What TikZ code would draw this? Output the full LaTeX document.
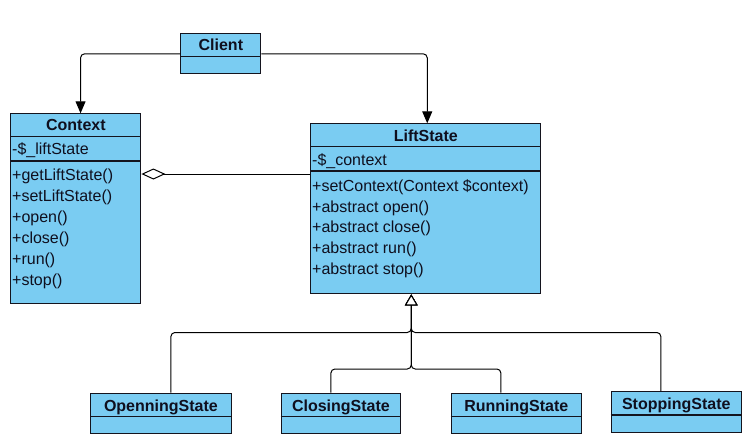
\documentclass[tikz,border=0pt]{standalone}
\usepackage{fontspec}
\setmainfont{Liberation Sans}
\usetikzlibrary{arrows.meta}
\definecolor{clsfill}{RGB}{122,204,242}
\definecolor{clsline}{RGB}{20,20,30}
\definecolor{clstext}{RGB}{15,15,30}
\tikzset{
  cls/.style={draw=clsline, fill=clsfill, line width=1.1pt, inner sep=0pt, anchor=north west},
  div/.style={draw=clsline, line width=1.1pt},
  ttl/.style={font=\fontsize{16}{18}\selectfont\bfseries, text=clstext, inner sep=0pt, text height=12pt, text depth=3pt},
  txt/.style={font=\fontsize{16}{18}\selectfont, text=clstext, inner sep=0pt, anchor=west, text height=12pt, text depth=3pt},
  conn/.style={draw=black, line width=1pt, rounded corners=4pt},
  assoc/.style={conn, -{Triangle[length=12pt,width=10pt]}},
  aggr/.style={conn, -{Diamond[open,length=24pt,width=11pt]}},
  gen/.style={conn, -{Triangle[open,length=11pt,width=12.7pt,fill=white]}}
}
\begin{document}
\begin{tikzpicture}[x=1pt,y=-1pt]
\fill[white] (0,0) rectangle (751,442);
\useasboundingbox (0,0) rectangle (751,442);

% Client
\node[cls, minimum width=80pt, minimum height=40pt] (cl) at (180.3,33.3) {};
\draw[div] (cl.west |- 0,56.7) -- (cl.east |- 0,56.7);
\node[ttl] (clT) at (cl.north |- 0,46) {Client};

% Context
\node[cls, minimum width=130pt, minimum height=190pt] (ctx) at (10.3,113.3) {};
\draw[div] (ctx.west |- 0,136.7) -- (ctx.east |- 0,136.7);
\draw[div] (ctx.west |- 0,161) -- (ctx.east |- 0,161);
\node[ttl] (ctxT) at (ctx.north |- 0,126) {Context};
\node[txt] (ctxA) at (12,150) {-\$\_liftState};
\node[txt] (ctxM1) at (12,176) {+getLiftState()};
\node[txt] (ctxM2) at (12,197) {+setLiftState()};
\node[txt] (ctxM3) at (12,218) {+open()};
\node[txt] (ctxM4) at (12,239) {+close()};
\node[txt] (ctxM5) at (12,260) {+run()};
\node[txt] (ctxM6) at (12,281) {+stop()};

% LiftState
\node[cls, minimum width=230pt, minimum height=170pt] (ls) at (310.3,123.3) {};
\draw[div] (ls.west |- 0,146.7) -- (ls.east |- 0,146.7);
\draw[div] (ls.west |- 0,171) -- (ls.east |- 0,171);
\node[ttl] (lsT) at (ls.north |- 0,136.5) {LiftState};
\node[txt] (lsA) at (312,160.5) {-\$\_context};
\node[txt] (lsM1) at (312,187) {+setContext(Context \$context)};
\node[txt] (lsM2) at (312,207.7) {+abstract open()};
\node[txt] (lsM3) at (312,228.3) {+abstract close()};
\node[txt] (lsM4) at (312,249) {+abstract run()};
\node[txt] (lsM5) at (312,269.7) {+abstract stop()};

% Subclasses
\node[cls, minimum width=140.7pt, minimum height=40.6pt] (op) at (90,392.7) {};
\draw[div] (op.west |- 0,416.7) -- (op.east |- 0,416.7);
\node[ttl] (opT) at (op.north |- 0,406.5) {OpenningState};

\node[cls, minimum width=119.3pt, minimum height=40.6pt] (cs) at (280.7,392.7) {};
\draw[div] (cs.west |- 0,416.7) -- (cs.east |- 0,416.7);
\node[ttl] (csT) at (cs.north |- 0,406.5) {ClosingState};

\node[cls, minimum width=130pt, minimum height=40.6pt] (rs) at (450.7,392.7) {};
\draw[div] (rs.west |- 0,416.7) -- (rs.east |- 0,416.7);
\node[ttl] (rsT) at (rs.north |- 0,406.5) {RunningState};

\node[cls, minimum width=130pt, minimum height=40.7pt] (ss) at (610.7,391) {};
\draw[div] (ss.west |- 0,415) -- (ss.east |- 0,415);
\node[ttl] (ssT) at (ss.north |- 0,404.5) {StoppingState};

% Connectors
\draw[assoc] (cl.west) -| ([xshift=4.7pt]ctx.north);
\draw[assoc] (cl.east) -| ([xshift=1.4pt]ls.north);
\draw[aggr] (ls.west |- 0,174) -- (ctx.east |- 0,174);

\coordinate (lsb) at ([xshift=-14.6pt]ls.south);
\draw[gen] ([xshift=10pt]op.north) |- (lsb |- 0,332.5) -- (lsb);
\draw[gen] ([xshift=-15.4pt]ss.north) |- (lsb |- 0,332.5) -- (lsb);
\draw[gen] ([xshift=-10pt]cs.north) |- (lsb |- 0,369) -- (lsb);
\draw[gen] ([xshift=-15.4pt]rs.north) |- (lsb |- 0,369) -- (lsb);
\end{tikzpicture}
\end{document}
